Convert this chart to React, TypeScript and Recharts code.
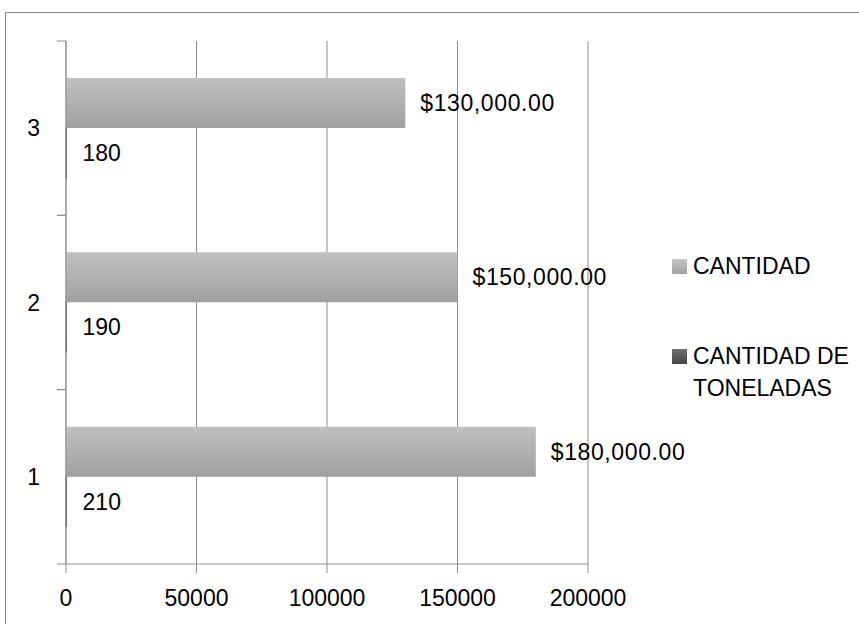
import React from 'react';
import { BarChart, Bar, XAxis, YAxis, CartesianGrid, LabelList } from 'recharts';

const categories = ['1', '2', '3'];
const cantidad = [180000, 150000, 130000];
const toneladas = [210, 190, 180];
const xTicks = [0, 50000, 100000, 150000, 200000];
const seriesNames = ['CANTIDAD', 'CANTIDAD DE TONELADAS'];

const FONT = '"Liberation Sans", Arial, sans-serif';
const GRID = '#8f8f8f';

// Excel pone la primera categoría abajo
const rows = categories
  .map((c, i) => ({ cat: c, cantidad: cantidad[i], toneladas: toneladas[i] }))
  .reverse();

const money = (v: any) =>
  '$' + Number(v).toLocaleString('en-US', { minimumFractionDigits: 2, maximumFractionDigits: 2 });

const CatTick = (props: any) => {
  const { x, y, payload } = props;
  const off = payload?.offset ?? 87;
  const ax = x + 26;
  return (
    <g>
      <line x1={ax - 9} y1={y - off} x2={ax} y2={y - off} stroke={GRID} />
      <line x1={ax - 9} y1={y + off} x2={ax} y2={y + off} stroke={GRID} />
      <text x={x} y={y} dy="0.355em" textAnchor="end" fontSize={23} fill="#000" fontFamily={FONT}>
        {payload.value}
      </text>
    </g>
  );
};

const legendFills = [
  'linear-gradient(#c4c4c4, #a3a3a3)',
  'linear-gradient(#6e6e6e, #474747)',
];

export default function App() {
  return (
    <div
      style={{
        position: 'absolute',
        left: 0,
        top: 0,
        width: 859,
        height: 624,
        overflow: 'hidden',
        background: '#fff',
        fontFamily: FONT,
      }}
    >
      <div
        style={{
          position: 'absolute',
          left: 5,
          top: 12,
          width: 880,
          height: 700,
          border: '1px solid #8a8a8a',
        }}
      />
      <div style={{ position: 'absolute', left: 0, top: 0 }}>
        <BarChart
          width={859}
          height={624}
          data={rows}
          layout="vertical"
          margin={{ top: 41, right: 271, bottom: 10, left: 8 }}
          barCategoryGap={37}
          barGap={0}
        >
          <defs>
            <linearGradient id="gLight" x1="0" y1="0" x2="0" y2="1">
              <stop offset="0%" stopColor="#c0c0c0" />
              <stop offset="100%" stopColor="#a0a0a0" />
            </linearGradient>
            <linearGradient id="gDark" x1="0" y1="0" x2="0" y2="1">
              <stop offset="0%" stopColor="#6a6a6a" />
              <stop offset="100%" stopColor="#444" />
            </linearGradient>
          </defs>
          <CartesianGrid horizontal={false} stroke={GRID} />
          <XAxis
            type="number"
            domain={[0, 200000]}
            ticks={xTicks}
            height={50}
            tickSize={9}
            tickMargin={17}
            stroke={GRID}
            tick={{ fontSize: 23, fill: '#000', fontFamily: FONT }}
          />
          <YAxis
            type="category"
            dataKey="cat"
            width={58}
            tickSize={9}
            tickMargin={17}
            tickLine={false}
            stroke={GRID}
            tick={<CatTick />}
          />
          <Bar dataKey="cantidad" name={seriesNames[0]} fill="url(#gLight)" isAnimationActive={false}>
            <LabelList
              dataKey="cantidad"
              position="right"
              offset={15}
              formatter={money}
              style={{ fontSize: 23, fill: '#000', fontFamily: FONT, letterSpacing: 0.6 }}
            />
          </Bar>
          <Bar
            dataKey="toneladas"
            name={seriesNames[1]}
            fill="url(#gDark)"
            stroke="#505050"
            strokeWidth={0.7}
            isAnimationActive={false}
          >
            <LabelList
              dataKey="toneladas"
              position="right"
              offset={16}
              style={{ fontSize: 23, fill: '#000', fontFamily: FONT }}
            />
          </Bar>
        </BarChart>
      </div>
      {/* leyenda */}
      <div style={{ position: 'absolute', left: 672, top: 250, fontSize: 23, lineHeight: '32px', color: '#000' }}>
        {seriesNames.map((n, i) => (
          <div key={n} style={{ position: 'relative', paddingLeft: 21, width: 160, marginBottom: i === 0 ? 58 : 0 }}>
            <span
              style={{
                position: 'absolute',
                left: 0,
                top: 9,
                width: 15,
                height: 15,
                background: legendFills[i],
              }}
            />
            {n}
          </div>
        ))}
      </div>
    </div>
  );
}
